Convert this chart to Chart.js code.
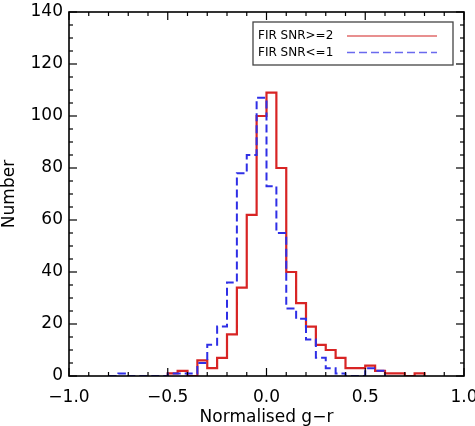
<!DOCTYPE html>
<html lang="en">
<head>
<meta charset="utf-8"/>
<title>Normalised g-r histogram</title>
<script src="https://cdn.jsdelivr.net/npm/chart.js"></script>
<style>
  body { margin: 0; background: #fff; }
  #wrap { width: 475px; height: 426px; }
</style>
</head>
<body>
<div id="wrap"><canvas id="hist" width="475" height="426"></canvas></div>
<script>
  // bin edges (left edge of every bin, last entry closes the last bin)
  const redEdges = [-0.50, -0.45, -0.40, -0.35, -0.30, -0.25, -0.20, -0.15, -0.10, -0.05,
                    0.00, 0.05, 0.10, 0.15, 0.20, 0.25, 0.30, 0.35, 0.40, 0.45,
                    0.50, 0.55, 0.60, 0.65, 0.70, 0.75, 0.80];
  const redCounts = [1, 2, 0, 6, 3, 7, 16, 34, 62, 100,
                     109, 80, 40, 28, 19, 12, 10, 7, 3, 3,
                     4, 2, 1, 1, 0, 1];

  const blueEdges = [-0.80, -0.75, -0.70, -0.65, -0.60, -0.55, -0.50, -0.45, -0.40, -0.35,
                     -0.30, -0.25, -0.20, -0.15, -0.10, -0.05, 0.00, 0.05, 0.10, 0.15,
                     0.20, 0.25, 0.30, 0.35, 0.40, 0.45, 0.50, 0.55, 0.60];
  const blueCounts = [0, 1, 0, 0, 0, 0, 1, 1, 1, 5,
                      12, 19, 36, 78, 85, 107, 73, 55, 26, 22,
                      14, 7, 3, 1, 0, 0, 3, 2];

  const xTicks = [-1.0, -0.5, 0.0, 0.5, 1.0];
  const yTicks = [0, 20, 40, 60, 80, 100, 120, 140];
  const seriesNames = ['FIR SNR>=2', 'FIR SNR<=1'];

  // histogram outline: rise at first edge, hold each count to the next edge, drop at the end
  function stepPoints(edges, counts) {
    const pts = [{ x: edges[0], y: 0 }];
    counts.forEach((c, i) => pts.push({ x: edges[i], y: c }));
    pts.push({ x: edges[edges.length - 1], y: 0 });
    return pts;
  }

  function line(ctx, x1, y1, x2, y2) {
    ctx.beginPath();
    ctx.moveTo(x1, y1);
    ctx.lineTo(x2, y2);
    ctx.stroke();
  }

  const idlBox = {
    id: 'idlBox',
    afterDatasetsDraw(chart) {
      const { ctx, chartArea: a, scales: { x, y } } = chart;
      ctx.save();
      ctx.strokeStyle = '#000';
      ctx.lineWidth = 1.6;
      ctx.strokeRect(a.left, a.top, a.right - a.left, a.bottom - a.top);
      ctx.lineWidth = 1.2;
      for (let i = -10; i <= 10; i++) {
        const px = x.getPixelForValue(i / 10);
        const len = i % 5 === 0 ? 8 : 4;
        line(ctx, px, a.bottom, px, a.bottom - len);
        line(ctx, px, a.top, px, a.top + len);
      }
      for (let v = 0; v <= 140; v += 5) {
        const py = y.getPixelForValue(v);
        const len = v % 20 === 0 ? 8 : 4;
        line(ctx, a.left, py, a.left + len, py);
        line(ctx, a.right, py, a.right - len, py);
      }
      ctx.restore();
    },
    afterDraw(chart) {
      const { ctx } = chart;
      const ds = chart.data.datasets;
      ctx.save();
      ctx.fillStyle = '#fff';
      ctx.fillRect(253, 22, 200, 43);
      ctx.strokeStyle = '#444';
      ctx.lineWidth = 1.3;
      ctx.strokeRect(253, 22, 200, 43);
      ctx.font = '12px "DejaVu Sans"';
      ctx.fillStyle = '#000';
      ctx.textBaseline = 'middle';
      const rows = [36, 52.5];
      ds.forEach((d, i) => {
        ctx.fillText(d.label, 258, rows[i]);
        ctx.strokeStyle = d.legendColor;
        ctx.lineWidth = 1.3;
        ctx.setLineDash(d.borderDash || []);
        line(ctx, 347, rows[i], 437, rows[i]);
        ctx.setLineDash([]);
      });
      ctx.restore();
    }
  };

  Chart.defaults.font.family = '"DejaVu Sans", sans-serif';
  Chart.defaults.font.size = 17;
  Chart.defaults.color = '#000';

  new Chart(document.getElementById('hist'), {
    type: 'line',
    data: {
      datasets: [
        {
          label: seriesNames[0],
          data: stepPoints(redEdges, redCounts),
          stepped: true,
          borderColor: '#d82424',
          legendColor: '#e06a6a',
          borderWidth: 2.2,
          pointRadius: 0,
          fill: false,
          order: 1
        },
        {
          label: seriesNames[1],
          data: stepPoints(blueEdges, blueCounts),
          stepped: true,
          borderColor: '#2f2fe6',
          legendColor: '#6a6aee',
          borderDash: [8, 4],
          borderWidth: 2,
          pointRadius: 0,
          fill: false,
          order: 0
        }
      ]
    },
    options: {
      responsive: false,
      animation: false,
      devicePixelRatio: 1,
      layout: { padding: { top: 12, right: 11, left: 0, bottom: 0 } },
      plugins: { legend: { display: false }, tooltip: { enabled: false } },
      scales: {
        x: {
          type: 'linear',
          min: -1,
          max: 1,
          grid: { display: false, drawTicks: false },
          border: { display: false },
          afterBuildTicks: s => { s.ticks = xTicks.map(v => ({ value: v })); },
          afterFit: s => { s.height = 50; s.paddingLeft = 0; s.paddingRight = 0; },
          ticks: {
            padding: 11,
            maxRotation: 0,
            autoSkip: false,
            callback: v => (v < 0 ? '\u2212' : '') + Math.abs(v).toFixed(1)
          },
          title: {
            display: true,
            text: 'Normalised g\u2212r',
            font: { size: 17, lineHeight: 1 },
            padding: { top: 0, bottom: 0 }
          }
        },
        y: {
          min: 0,
          max: 140,
          grid: { display: false, drawTicks: false },
          border: { display: false },
          afterBuildTicks: s => { s.ticks = yTicks.map(v => ({ value: v })); },
          afterFit: s => { s.width = 69; s.paddingTop = 0; s.paddingBottom = 0; },
          ticks: { padding: 6, autoSkip: false },
          title: {
            display: true,
            text: 'Number',
            font: { size: 17, lineHeight: 1 },
            padding: { top: 1, bottom: 0 }
          }
        }
      }
    },
    plugins: [idlBox]
  });
</script>
</body>
</html>
